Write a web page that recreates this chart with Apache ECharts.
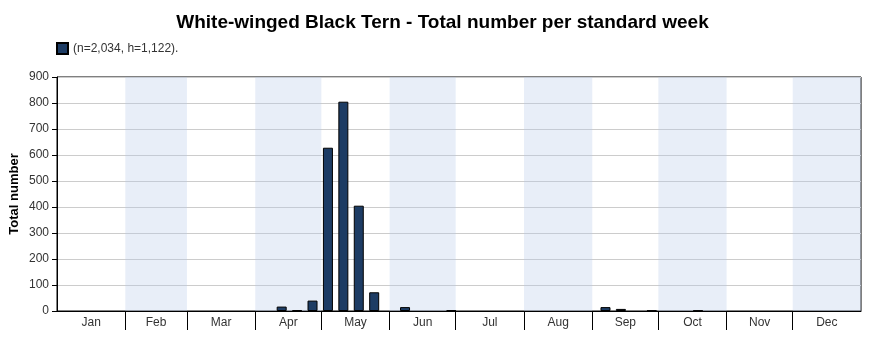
<!DOCTYPE html>
<html>
<head>
<meta charset="utf-8">
<script src="https://cdn.jsdelivr.net/npm/echarts@6/dist/echarts.min.js"></script>
<style>html,body{margin:0;padding:0;background:#fff}#c{width:885px;height:342px}</style>
</head>
<body>
<div id="c"></div>
<script>
// Data
const weeks  = [14, 15, 16, 17, 18, 19, 20, 22, 25, 35, 36, 38, 41]; // 0-based standard week index
const counts = [17, 3, 40, 628, 805, 405, 72, 15, 3, 15, 8, 2, 2];
const months = ['Jan','Feb','Mar','Apr','May','Jun','Jul','Aug','Sep','Oct','Nov','Dec'];
const monthStarts = [0,31,59,90,120,151,181,212,243,273,304,334,365];
const yTicks = [0,100,200,300,400,500,600,700,800,900];
const seriesName = '(n=2,034, h=1,122).';
const titleText = 'White-winged Black Tern - Total number per standard week';

const barData = weeks.map((w, i) => [w * 7 + 4, counts[i]]);
const mids = months.map((m, i) => (monthStarts[i] + monthStarts[i + 1]) / 2);
const bands = [];
for (let i = 1; i < 12; i += 2) bands.push([{ xAxis: monthStarts[i] }, { xAxis: monthStarts[i + 1] }]);

const chart = echarts.init(document.getElementById('c'), null, { renderer: 'canvas' });
chart.setOption({
  animation: false,
  backgroundColor: '#fff',
  textStyle: { fontFamily: 'Liberation Sans, Arial, sans-serif' },
  title: {
    text: titleText, left: 'center', top: 8,
    textStyle: { fontSize: 19, fontWeight: 'bold', color: '#000', fontFamily: 'Liberation Sans, Arial, sans-serif' }
  },
  legend: {
    left: 51, top: 37, itemWidth: 11, itemHeight: 11, icon: 'rect', itemGap: 8,
    textStyle: { fontSize: 12, color: '#333' },
    data: [seriesName]
  },
  grid: { left: 57, right: 24, top: 77, bottom: 31, outerBoundsMode: 'none', containLabel: false, show: true, borderColor: '#000', borderWidth: 1, backgroundColor: 'transparent' },
  xAxis: {
    type: 'value', min: 0, max: 365,
    axisLine: { lineStyle: { color: '#000' } },
    splitLine: { show: false },
    axisTick: { show: true, customValues: monthStarts.slice(1, 12), length: 19, lineStyle: { color: '#000' } },
    axisLabel: {
      customValues: mids, fontSize: 12, color: '#333', margin: 6,
      formatter: v => { const i = mids.indexOf(v); return i >= 0 ? months[i] : ''; }
    }
  },
  yAxis: {
    type: 'value', min: 0, max: 900, interval: 100,
    name: 'Total number', nameLocation: 'middle', nameGap: 36, nameMoveOverlap: false,
    nameTextStyle: { fontSize: 13, fontWeight: 'bold', color: '#000' },
    axisLine: { show: true, lineStyle: { color: '#000' } },
    axisTick: { show: true, length: 5, lineStyle: { color: '#000' } },
    axisLabel: { fontSize: 12, color: '#333', margin: 8, formatter: v => yTicks.includes(v) ? String(v) : '' },
    splitLine: { lineStyle: { color: '#cccccc' } }
  },
  series: [{
    name: seriesName, type: 'bar', data: barData, barWidth: 10,
    itemStyle: { color: '#1d3c64', borderColor: '#000', borderWidth: 1 },
    markArea: { silent: true, itemStyle: { color: 'rgba(180,200,232,0.31)' }, data: bands }
  }]
});
</script>
</body>
</html>
